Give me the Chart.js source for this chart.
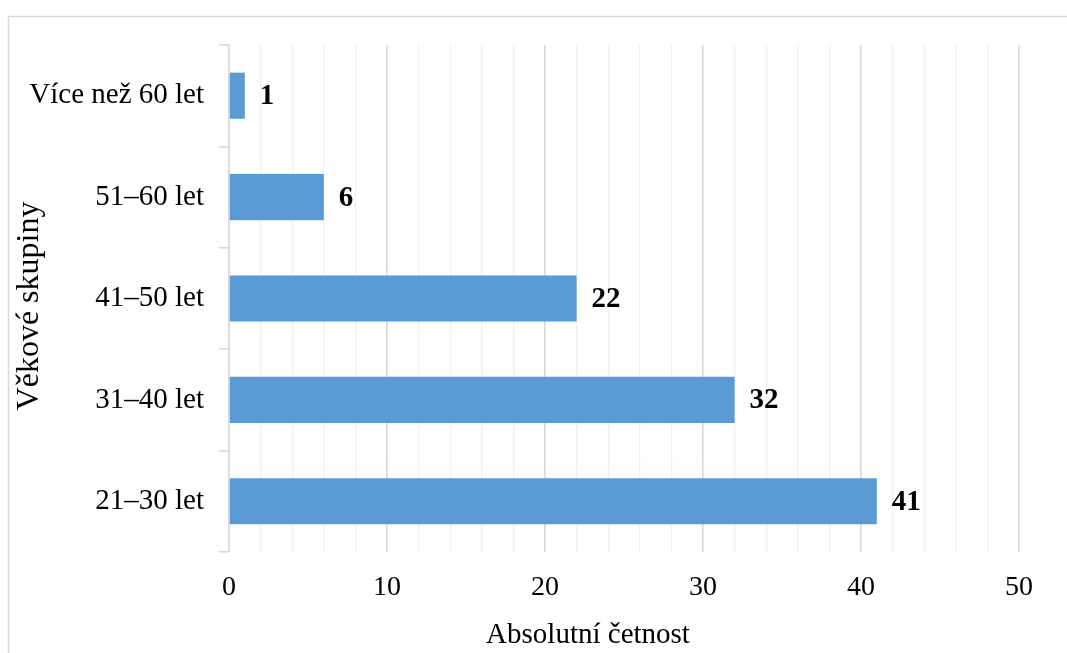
<!DOCTYPE html>
<html lang="cs">
<head>
<meta charset="utf-8">
<title>Věkové skupiny – absolutní četnost</title>
<script src="https://cdn.jsdelivr.net/npm/chart.js@4/dist/chart.umd.min.js"></script>
<style>
  html, body { margin: 0; padding: 0; background: #ffffff; }
  #wrap { width: 1067px; height: 653px; position: relative; }
</style>
</head>
<body>
<div id="wrap"><canvas id="chart" width="1067" height="653"></canvas></div>
<script>
// Age groups (top to bottom) and their absolute frequencies
const categories = ["Více než 60 let", "51–60 let", "41–50 let", "31–40 let", "21–30 let"];
const counts = [1, 6, 22, 32, 41];
const xTickLabels = [0, 10, 20, 30, 40, 50];

const xTitle = "Absolutní četnost";
const yTitle = "Věkové skupiny";

const serif = "'Liberation Serif', 'Times New Roman', serif";

// Thin grey frame around the whole figure (open at right and bottom edge)
const framePlugin = {
  id: 'frame',
  beforeDraw(chart) {
    const ctx = chart.ctx;
    ctx.save();
    ctx.strokeStyle = '#d9d9d9';
    ctx.lineWidth = 1.5;
    ctx.beginPath();
    ctx.moveTo(8.5, chart.height + 2);
    ctx.lineTo(8.5, 16.5);
    ctx.lineTo(chart.width + 2, 16.5);
    ctx.stroke();
    ctx.restore();
  }
};

// Axis titles, placed relative to the whole figure
const axisTitles = {
  id: 'axisTitles',
  afterDraw(chart) {
    const ctx = chart.ctx;
    ctx.save();
    ctx.fillStyle = '#000000';
    ctx.textAlign = 'center';
    ctx.textBaseline = 'alphabetic';
    ctx.font = "29px " + serif;
    ctx.fillText(xTitle, 588, 643);
    ctx.translate(38, 306);
    ctx.rotate(-Math.PI / 2);
    ctx.font = "32px " + serif;
    ctx.fillText(yTitle, 0, 0);
    ctx.restore();
  }
};

// Bold value labels placed just past each bar's end
const valueLabels = {
  id: 'valueLabels',
  afterDatasetsDraw(chart) {
    const ctx = chart.ctx;
    const meta = chart.getDatasetMeta(0);
    ctx.save();
    ctx.font = "bold 29px " + serif;
    ctx.fillStyle = '#000000';
    ctx.textAlign = 'left';
    ctx.textBaseline = 'middle';
    meta.data.forEach((bar, i) => {
      ctx.fillText(String(chart.data.datasets[0].data[i]), bar.x + 15, bar.y + 1);
    });
    ctx.restore();
  }
};

new Chart(document.getElementById('chart'), {
  type: 'bar',
  data: {
    labels: categories,
    datasets: [{
      data: counts,
      backgroundColor: '#5b9bd5',
      borderWidth: 0,
      categoryPercentage: 1,
      barPercentage: 0.455
    }]
  },
  options: {
    indexAxis: 'y',
    responsive: false,
    animation: false,
    devicePixelRatio: 1,
    layout: { padding: { top: 45, right: 48, left: 0, bottom: 0 } },
    plugins: {
      legend: { display: false },
      tooltip: { enabled: false }
    },
    scales: {
      x: {
        min: 0,
        max: 50,
        afterFit(scale) { scale.height = 101; },
        afterBuildTicks(scale) {
          const t = [];
          for (let v = 0; v <= 50; v += 2) t.push({ value: v });
          scale.ticks = t;
        },
        border: { display: false },
        grid: {
          drawTicks: false,
          color: (c) => (c.tick && c.tick.value % 10 === 0) ? '#d9d9d9' : '#f0f0f0',
          lineWidth: (c) => (c.tick && c.tick.value % 10 === 0) ? 1.6 : 1.3
        },
        ticks: {
          autoSkip: false,
          maxRotation: 0,
          padding: 19,
          color: '#000000',
          font: { family: serif, size: 28 },
          callback: (v) => xTickLabels.includes(v) ? String(v) : ''
        },
        title: { display: false, text: xTitle }
      },
      y: {
        afterFit(scale) { scale.width = 229; },
        border: { display: true, color: '#d9d9d9', width: 1.6 },
        grid: {
          offset: true,
          drawOnChartArea: false,
          drawTicks: true,
          tickLength: 10,
          color: '#d9d9d9',
          lineWidth: 1.6
        },
        ticks: {
          padding: 15,
          color: '#000000',
          font: { family: serif, size: 29 }
        },
        title: { display: false, text: yTitle }
      }
    }
  },
  plugins: [framePlugin, valueLabels, axisTitles]
});
</script>
</body>
</html>
